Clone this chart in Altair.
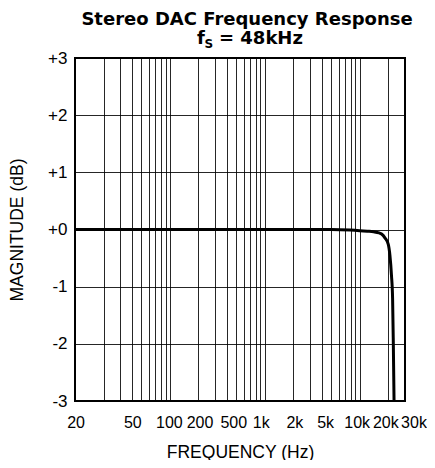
import altair as alt
import pandas as pd

# Frequency response (Hz, dB)
freq = [10, 20, 50, 100, 200, 500, 1000, 2000, 5000, 8000, 10000, 12000, 14000,
        16000, 17000, 18500, 20000, 20800, 21600, 22200, 22600, 23000]
mag = [0, 0, 0, 0, 0, 0, 0, 0, 0, -0.01, -0.02, -0.03, -0.04,
       -0.06, -0.08, -0.15, -0.26, -0.45, -0.8, -1.2, -2.0, -3.0]

grid_freqs = [20, 30, 40, 50, 60, 70, 80, 90,
              100, 200, 300, 400, 500, 600, 700, 800, 900,
              1000, 2000, 3000, 4000, 5000, 6000, 7000, 8000, 9000,
              10000, 20000, 30000]
label_freqs = [20, 50, 100, 200, 500, 1000, 2000, 5000, 10000, 20000, 30000]
label_texts = ["20", "50", "100", "200", "500", "1k", "2k", "5k", "10k", "20k", "30k"]
label_shift = [-28, -9, -1, 1, -3, -4, 1, -6, -3, -3, 8.5]
y_ticks = [-3, -2, -1, 0, 1, 2, 3]
y_texts = ["-3", "-2", "-1", "+0", "+1", "+2", "+3"]

title1 = "Stereo DAC Frequency Response"
FONT = "Liberation Sans"
TFONT = "DejaVu Sans"

x_expr = "".join(f"datum.value == {v} ? '{t}' : " for v, t in zip(label_freqs, label_texts)) + "''"
x_off = "".join(f"datum.value == {v} ? {s} : " for v, s in zip(label_freqs, label_shift)) + "0"
y_expr = "".join(f"datum.value == {v} ? '{t}' : " for v, t in zip(y_ticks, y_texts)) + "''"

df = pd.DataFrame({"freq": freq, "mag": mag})

line = alt.Chart(df).mark_line(color="black", strokeWidth=3, clip=True, interpolate="monotone").encode(
    x=alt.X("freq:Q",
            scale=alt.Scale(type="log", domain=[10, 30000]),
            axis=alt.Axis(values=grid_freqs, labelExpr=x_expr, title="FREQUENCY (Hz)",
                          labelOffset=alt.ExprRef(x_off), labelFontSize=16,
                          grid=True, ticks=False, domain=False, labelOverlap=False,
                          labelFlush=False, labelPadding=13, titlePadding=13)),
    y=alt.Y("mag:Q",
            scale=alt.Scale(domain=[-3, 3]),
            axis=alt.Axis(values=y_ticks, labelExpr=y_expr, title="MAGNITUDE (dB)",
                          labelFontSize=17,
                          grid=True, ticks=False, domain=False, labelOverlap=False,
                          labelFlush=False, labelPadding=8, titlePadding=21)),
)

t1 = alt.Chart(pd.DataFrame({"t": [title1]})).mark_text(
    font=TFONT, fontSize=18, fontWeight="bold", align="center", baseline="alphabetic", color="black"
).encode(text="t:N", x=alt.value(172), y=alt.value(-33.5))

t2a = alt.Chart(pd.DataFrame({"t": ["f"]})).mark_text(
    font=TFONT, fontSize=18, fontWeight="bold", align="left", baseline="alphabetic", color="black"
).encode(text="t:N", x=alt.value(122), y=alt.value(-14))
t2b = alt.Chart(pd.DataFrame({"t": ["S"]})).mark_text(
    font=TFONT, fontSize=12, fontWeight="bold", align="left", baseline="alphabetic", color="black"
).encode(text="t:N", x=alt.value(129.5), y=alt.value(-10))
t2c = alt.Chart(pd.DataFrame({"t": ["= 48kHz"]})).mark_text(
    font=TFONT, fontSize=18, fontWeight="bold", align="left", baseline="alphabetic", color="black"
).encode(text="t:N", x=alt.value(144), y=alt.value(-14))

chart = alt.layer(line, t1, t2a, t2b, t2c).properties(
    width=330, height=343,
    autosize=alt.AutoSizeParams(type="none"),
    padding={"left": 67, "top": 50, "right": 22, "bottom": 59},
    background="white",
).configure_view(
    stroke="black", strokeWidth=2
).configure_axis(
    gridColor="black", gridOpacity=0.85, gridWidth=1,
    labelFont=FONT, labelColor="black",
    titleFont=FONT, titleFontSize=17.5, titleFontWeight="normal", titleColor="black",
)

chart.save("out.html", embed_options={"renderer": "svg", "actions": False})
